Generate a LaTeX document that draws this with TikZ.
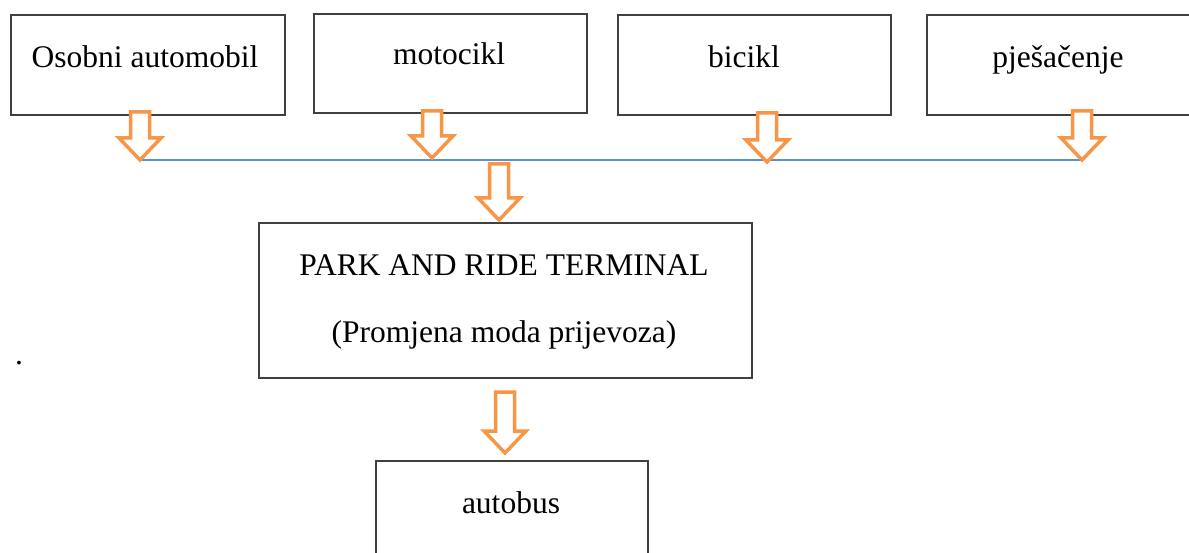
\documentclass[tikz,border=0pt]{standalone}
\usepackage{fontspec}
\setmainfont{Liberation Serif}
\definecolor{boxline}{HTML}{404040}
\definecolor{arrorange}{HTML}{F79646}
\definecolor{linkblue}{HTML}{5B8FD5}
\begin{document}
\begin{tikzpicture}[x=1pt,y=-1pt,
  box/.style={draw=boxline,line width=2pt,inner sep=0pt,anchor=north west},
  lbl/.style={anchor=base,inner sep=0pt,font=\fontsize{31.5}{38}\selectfont},
  blockarrow/.style={draw=arrorange,line width=3.5pt,fill=white,line join=miter}]
\useasboundingbox (0,0) rectangle (1189,553);
% boxes
\node[box,minimum width=274pt,minimum height=100pt] (car) at (10,14) {};
\node[box,minimum width=273pt,minimum height=99pt] (moto) at (313,13) {};
\node[box,minimum width=273pt,minimum height=100pt] (bike) at (617,14) {};
\node[box,minimum width=270pt,minimum height=100pt] (walk) at (926,14) {};
\node[box,minimum width=493pt,minimum height=155pt] (park) at (258,222) {};
\node[box,minimum width=272pt,minimum height=140pt] (bus) at (375,460) {};
% texts
\node[lbl] (tcar) at (145,68) {Osobni automobil};
\node[lbl] (tmoto) at (449,65) {motocikl};
\node[lbl] (tbike) at (744,68) {bicikl};
\node[lbl] (twalk) at (1058,68) {pješačenje};
\node[lbl] (tpark1) at (504,276) {PARK AND RIDE TERMINAL};
\node[lbl] (tpark2) at (504,342) {(Promjena moda prijevoza)};
\node[lbl] (tbus) at (511,513) {autobus};
\node[lbl] (dot) at (19,365) {.};
% blue collector line
\coordinate (la) at (142,160);
\coordinate (lb) at (1082,160);
\draw[linkblue,line width=1.5pt] (la) -- (lb);
% hollow block arrows: (x, top, tip)
\newcommand\hollowarrow[3]{%
  \draw[blockarrow] (#1-9.5,#2) -- (#1+9.5,#2) -- (#1+9.5,#3-22) -- (#1+21,#3-22)
    -- (#1,#3) -- (#1-21,#3-22) -- (#1-9.5,#3-22) -- cycle;}
\hollowarrow{140}{112}{160}
\hollowarrow{432}{111}{158}
\hollowarrow{767}{113}{162}
\hollowarrow{1082}{111}{160}
\hollowarrow{499}{164}{220}
\hollowarrow{505}{392}{453}
\end{tikzpicture}
\end{document}
